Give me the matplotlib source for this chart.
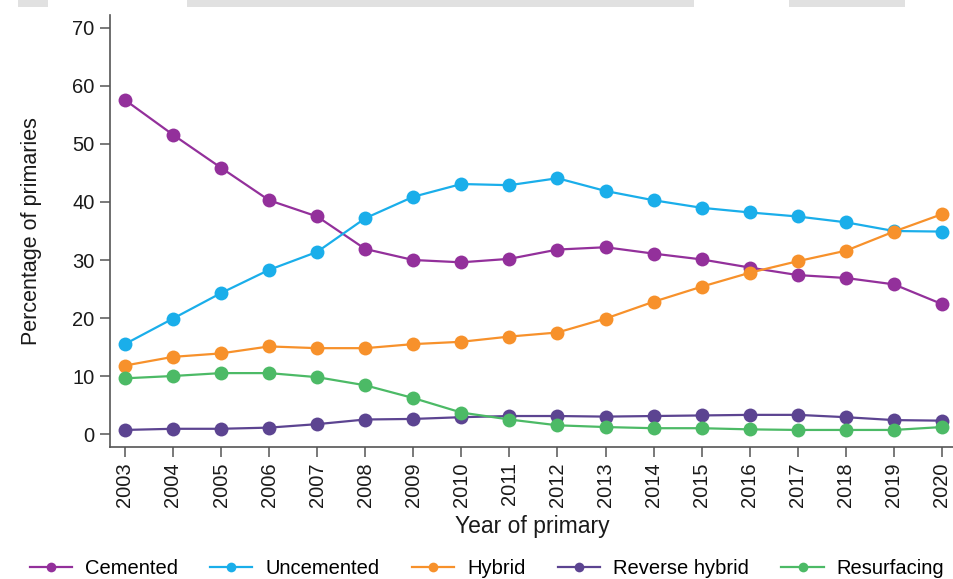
import matplotlib
matplotlib.use("Agg")
import matplotlib.pyplot as plt
from matplotlib.patches import Rectangle

years = list(range(2003, 2021))

cemented = [57.6, 51.6, 45.9, 40.3, 37.5, 31.9, 30.0, 29.6, 30.2, 31.8,
            32.2, 31.1, 30.1, 28.7, 27.4, 26.9, 25.8, 22.4]
uncemented = [15.5, 19.9, 24.3, 28.3, 31.4, 37.2, 40.9, 43.1, 42.9, 44.1,
              41.9, 40.3, 39.0, 38.2, 37.5, 36.5, 35.0, 34.9]
hybrid = [11.8, 13.3, 13.9, 15.1, 14.8, 14.8, 15.5, 15.9, 16.8, 17.5,
          19.9, 22.8, 25.4, 27.8, 29.8, 31.6, 34.9, 37.9]
reverse_hybrid = [0.7, 0.9, 0.9, 1.1, 1.7, 2.5, 2.6, 2.9, 3.1, 3.1,
                  3.0, 3.1, 3.2, 3.3, 3.3, 2.9, 2.4, 2.3]
resurfacing = [9.6, 10.0, 10.5, 10.5, 9.8, 8.4, 6.2, 3.7, 2.5, 1.5,
               1.2, 1.0, 1.0, 0.8, 0.7, 0.7, 0.7, 1.2]

series = [
    ("Cemented", cemented, "#93309b"),
    ("Uncemented", uncemented, "#1aaeea"),
    ("Hybrid", hybrid, "#f7912b"),
    ("Reverse hybrid", reverse_hybrid, "#5c4491"),
    ("Resurfacing", resurfacing, "#4cba66"),
]

plt.rcParams["font.family"] = ["Liberation Sans", "DejaVu Sans"]

fig = plt.figure(figsize=(9.54, 5.79), dpi=100)
ax = fig.add_axes([110 / 954, 1 - 447 / 579, 844 / 954, 432 / 579])

for name, vals, col in series:
    ax.plot(years, vals, color=col, lw=1.6, marker="o", markersize=10,
            markeredgewidth=0, label=name)

ax.set_xlim(2002.69, 2020.25)
ax.set_ylim(-2.24, 72.24)
ax.set_xticks(years)
ax.set_xticklabels([str(y) for y in years], rotation=90)
ax.set_yticks(range(0, 71, 10))

for side in ["top", "right"]:
    ax.spines[side].set_visible(False)
for side in ["left", "bottom"]:
    ax.spines[side].set_color("#555555")
    ax.spines[side].set_linewidth(1.2)

ax.tick_params(axis="both", labelsize=14.5, length=7, width=1.1,
               color="#555555", labelcolor="#1a1a1a", pad=4)
ax.set_xlabel("Year of primary", fontsize=16.5, color="#1a1a1a", labelpad=6)
ax.set_ylabel("Percentage of primaries", fontsize=15.5, color="#1a1a1a", labelpad=22)

fig.legend(loc="center", bbox_to_anchor=(487 / 954, 1 - 569 / 579), ncol=5,
           frameon=False, fontsize=14.5, handlelength=2.1, handletextpad=0.65,
           columnspacing=1.6, markerscale=0.7)

# grey strip along the top edge
for x0, x1 in [(18, 48), (187, 694), (789, 905)]:
    fig.patches.append(Rectangle((x0 / 954, 1 - 7 / 579), (x1 - x0) / 954, 7 / 579,
                                 transform=fig.transFigure, color="#e1e1e1",
                                 lw=0, zorder=0))

fig.savefig("out.png", dpi=100)
